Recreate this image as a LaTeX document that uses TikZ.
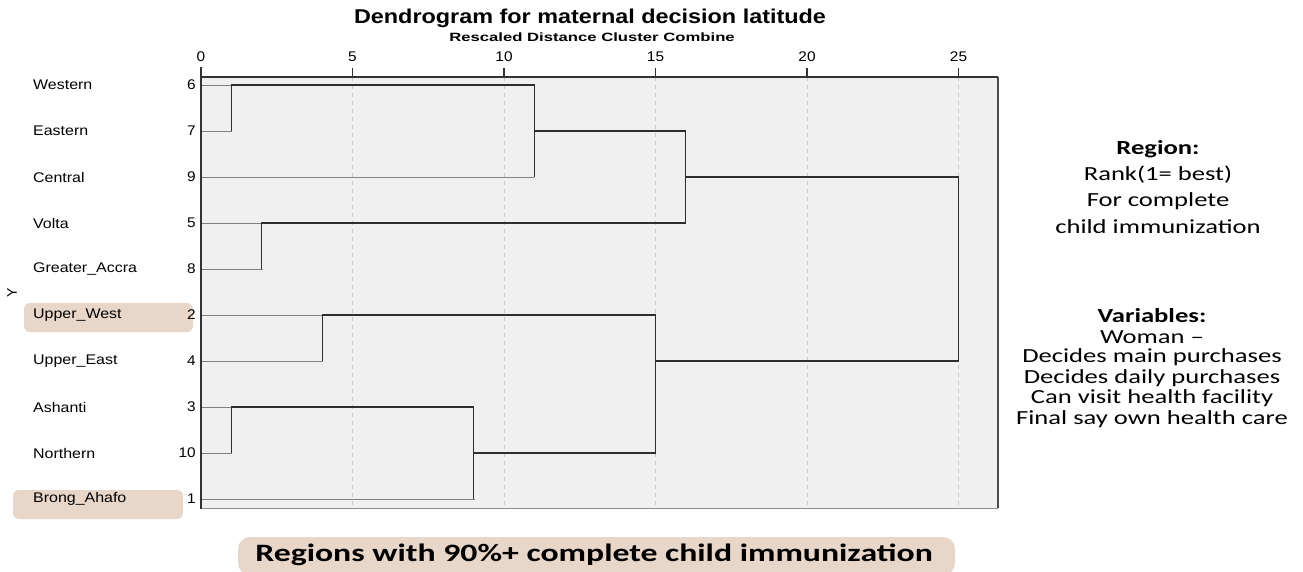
\documentclass[tikz,border=0pt]{standalone}
\usepackage{fontspec}
\setmainfont{Liberation Sans}
\newfontfamily\calfont{Carlito}
\newcommand{\wide}[2]{\scalebox{#1}[1]{#2}}
\begin{document}
\begin{tikzpicture}[x=1pt,y=-1pt,
  lbl/.style={font=\fontsize{14}{16}\selectfont, anchor=west, inner sep=0pt},
  num/.style={font=\fontsize{14}{16}\selectfont, anchor=east, inner sep=0pt},
  tick/.style={font=\fontsize{14}{16}\selectfont, inner sep=0pt},
  leaf/.style={draw=black!50, line width=1pt},
  clus/.style={draw=black!82, line width=1.3pt},
  grid/.style={draw=black!22, line width=0.9pt, dash pattern=on 4pt off 4pt},
  side/.style={font=\calfont\fontsize{20}{22}\selectfont, inner sep=0pt},
  sidehead/.style={font=\calfont\bfseries\fontsize{20}{22}\selectfont, inner sep=0pt}]
\useasboundingbox (0,0) rectangle (1303,571);
\definecolor{tan}{HTML}{E8D6C8}
% highlight behind selected regions
\fill[tan, rounded corners=6pt] (24,303) rectangle (193,332);
\fill[tan, rounded corners=6pt] (13,490) rectangle (183,519);
\fill[tan, rounded corners=12pt] (238,537) rectangle (955,575);
% plot area
\fill[black!6] (201,77) rectangle (998,508);
\foreach \u in {5,10,15,20,25}
  \draw[grid] ({201+30.3*\u},77) -- ({201+30.3*\u},508);
\draw[black!45, line width=1pt] (201,508) -- (998,508);
\draw[black!70, line width=1.4pt] (998,77) -- (998,508);
\draw[black!80, line width=1.5pt] (201,77) -- (998,77);
\draw[black!80, line width=2pt] (201,67) -- (201,509);
\foreach \u in {0,5,10,15,20,25}{
  \draw[black!80, line width=1.4pt] ({201+30.3*\u},68) -- ({201+30.3*\u},77);
  \node[tick] (t\u) at ({201+30.3*\u},57) {\wide{1.1}{\u}};
}
% titles
\node[font=\bfseries\fontsize{20}{22}\selectfont, inner sep=0pt] (title) at (590,18) {\wide{1.17}{Dendrogram for maternal decision latitude}};
\node[font=\bfseries\fontsize{12}{13}\selectfont, inner sep=0pt] (subtitle) at (592,37) {\wide{1.39}{Rescaled Distance Cluster Combine}};
\node[font=\fontsize{14}{16}\selectfont, rotate=90, inner sep=0pt] (yaxis) at (12,293) {Y};
% leaf labels and case numbers
\foreach \name/\n/\i in {Western/6/0, Eastern/7/1, Central/9/2, Volta/5/3, Greater\_Accra/8/4,
    Upper\_West/2/5, Upper\_East/4/6, Ashanti/3/7, Northern/10/8, Brong\_Ahafo/1/9}{
  \node[lbl] (name\i) at (33,{85+46*\i}) {\wide{1.14}{\name}};
  \node[num] (num\i) at (196,{85+46*\i}) {\wide{1.1}{\n}};
  \coordinate (leaf\i) at (202,{85+46*\i});
}
% leaf segments up to first merge
\draw[leaf] (leaf0) -- ++(30.3,0);
\draw[leaf] (leaf1) -- ++(30.3,0);
\draw[leaf] (leaf2) -- ++(332.3,0);
\draw[leaf] (leaf3) -- ++(60.6,0);
\draw[leaf] (leaf4) -- ++(60.6,0);
\draw[leaf] (leaf5) -- ++(121.2,0);
\draw[leaf] (leaf6) -- ++(121.2,0);
\draw[leaf] (leaf7) -- ++(30.3,0);
\draw[leaf] (leaf8) -- ++(30.3,0);
\draw[leaf] (leaf9) -- ++(272.7,0);
% cluster joins
\draw[clus] (231.3,131) -- (231.3,85) -- (534.3,85) -- (534.3,177);
\draw[clus] (534.3,131) -- (685.8,131) -- (685.8,223);
\draw[clus] (261.6,269) -- (261.6,223) -- (685.8,223);
\draw[clus] (685.8,177) -- (958.5,177) -- (958.5,361) -- (655.5,361);
\draw[clus] (322.2,361) -- (322.2,315) -- (655.5,315) -- (655.5,453);
\draw[clus] (231.3,453) -- (231.3,407) -- (473.7,407) -- (473.7,499);
\draw[clus] (473.7,453) -- (655.5,453);
% side notes
\node[sidehead] (reg) at (1158,149) {\wide{1.33}{Region:}};
\node[side] (rank) at (1158,175) {\wide{1.33}{Rank(1= best)}};
\node[side] (for) at (1158,201) {\wide{1.33}{For complete}};
\node[side] (child) at (1158,227) {\wide{1.33}{child immunization}};
\node[sidehead] (vars) at (1152,316) {\wide{1.33}{Variables:}};
\node[side] (woman) at (1152,337) {\wide{1.33}{Woman –}};
\node[side] (v1) at (1152,357) {\wide{1.33}{Decides main purchases}};
\node[side] (v2) at (1152,378) {\wide{1.33}{Decides daily purchases}};
\node[side] (v3) at (1152,398) {\wide{1.33}{Can visit health facility}};
\node[side] (v4) at (1152,419) {\wide{1.33}{Final say own health care}};
\node[font=\calfont\bfseries\fontsize{25}{27}\selectfont, inner sep=0pt] (banner) at (594,555) {\wide{1.35}{Regions with 90\%+ complete child immunization}};
\end{tikzpicture}
\end{document}
